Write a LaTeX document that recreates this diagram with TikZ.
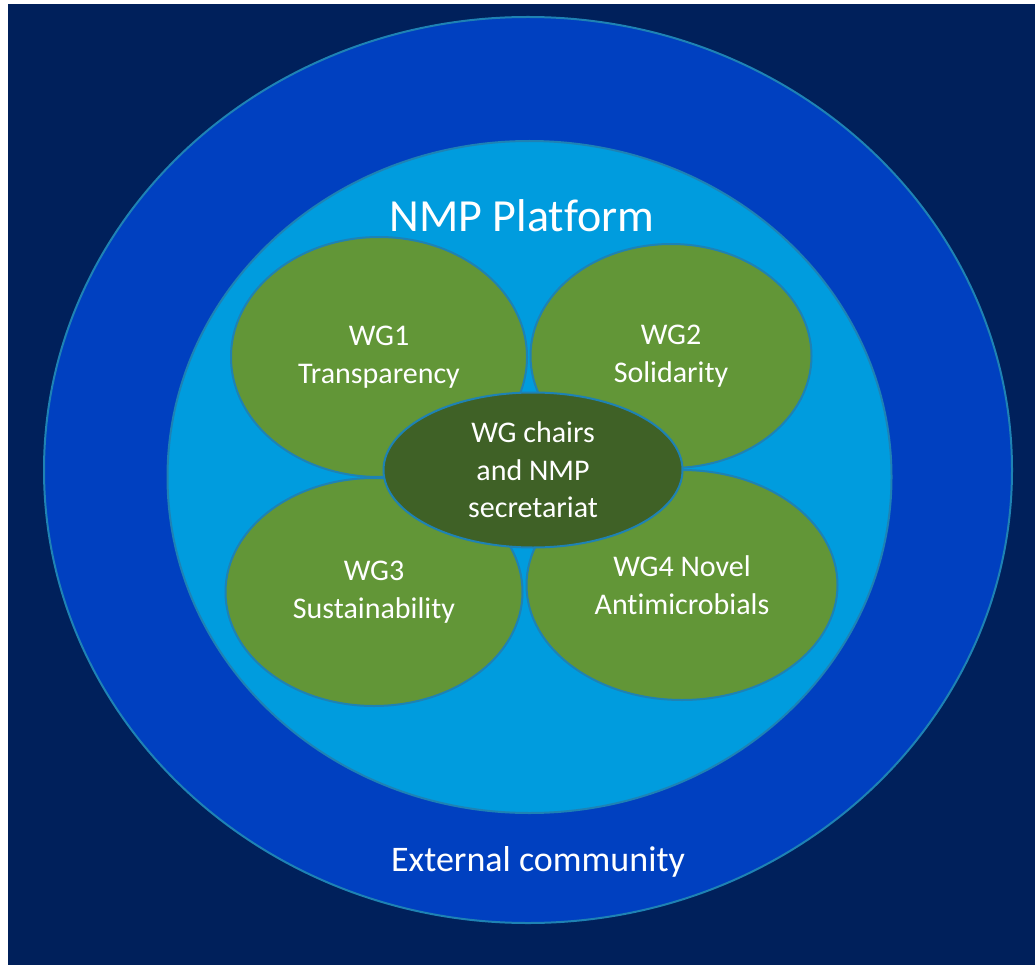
\documentclass[tikz,border=0pt]{standalone}
\usepackage{fontspec}
\setmainfont{Carlito}[Ligatures=NoCommon]
\usetikzlibrary{shapes.geometric}
\definecolor{navy}{RGB}{0,32,91}
\definecolor{royal}{RGB}{0,64,192}
\definecolor{sky}{RGB}{0,156,222}
\definecolor{leaf}{RGB}{98,150,55}
\definecolor{darkleaf}{RGB}{63,97,38}
\definecolor{rim}{RGB}{30,130,180}
\tikzset{
  oval/.style={ellipse, draw=rim, line width=2pt, inner sep=0pt, text=white, align=center},
  wg/.style={oval, fill=leaf, font=\fontsize{30}{38}\selectfont},
  label/.style={text=white, inner sep=0pt}
}
\begin{document}
\begin{tikzpicture}[x=1pt,y=-1pt]
\useasboundingbox (0,0) rectangle (1035,965);
\fill[white] (0,0) rectangle (1035,965);
\fill[navy] (8,4) rectangle (1035,965);
\node[oval, fill=royal, minimum width=968pt, minimum height=906pt] (outer) at (528,470) {};
\node[oval, fill=sky, minimum width=724pt, minimum height=672pt] (inner) at (529.5,477) {};
\node[label, font=\fontsize{46}{50}\selectfont] (title) at (522,216) {NMP Platform};
\node[label, font=\fontsize{36}{40}\selectfont] (ext) at (538,862) {External community};
\node[wg, minimum width=296pt, minimum height=240pt] (wg1) at (379,357) {WG1\\Transparency};
\node[wg, minimum width=281pt, minimum height=224pt] (wg2) at (671,356) {WG2\\Solidarity};
\node[wg, minimum width=297pt, minimum height=228pt] (wg3) at (374,592) {WG3\\Sustainability};
\node[wg, minimum width=311pt, minimum height=230pt] (wg4) at (682,585) {WG4 Novel\\Antimicrobials};
\node[oval, fill=darkleaf, font=\fontsize{30}{37.5}\selectfont, minimum width=299pt, minimum height=155pt] (core) at (533,470) {WG chairs\\and NMP\\secretariat};
\end{tikzpicture}
\end{document}
